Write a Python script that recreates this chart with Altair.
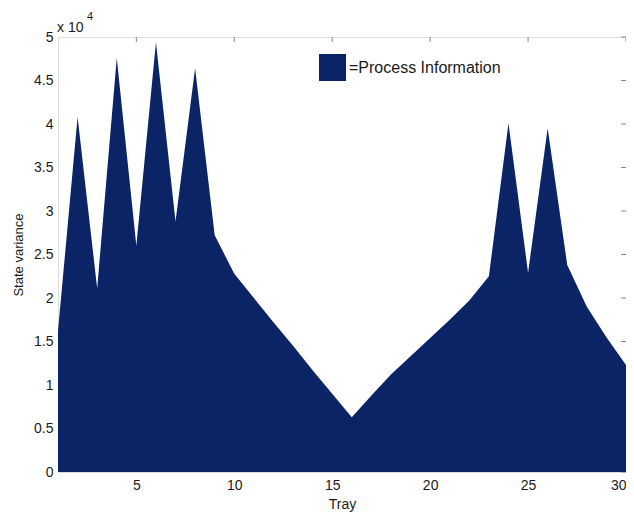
import altair as alt
import pandas as pd

trays = list(range(1, 31))
variance = [1.62, 4.08, 2.11, 4.76, 2.60, 4.94, 2.88, 4.64, 2.72, 2.28,
            2.00, 1.72, 1.45, 1.17, 0.90, 0.63, 0.88, 1.12, 1.33, 1.54,
            1.75, 1.97, 2.25, 4.01, 2.29, 3.95, 2.38, 1.90, 1.55, 1.23]
series_name = "=Process Information"
x_ticks = [5, 10, 15, 20, 25, 30]
y_ticks = [0, 0.5, 1, 1.5, 2, 2.5, 3, 3.5, 4, 4.5, 5]

FILL = "#0b2466"
FONT = "Liberation Sans"
TXT = "#1a1a1a"

df = pd.DataFrame({"tray": trays, "var": variance, "series": series_name})
xt = pd.DataFrame({"t": x_ticks})
yt = pd.DataFrame({"t": y_ticks})

xscale = alt.Scale(domain=[1, 30], nice=False, zero=False)
yscale = alt.Scale(domain=[0, 5], nice=False)

area = alt.Chart(df).mark_area(color=FILL, opacity=1, interpolate="linear").encode(
    x=alt.X("tray:Q", scale=xscale,
            axis=alt.Axis(values=x_ticks, title="Tray", ticks=False, domain=False,
                          grid=False, labelPadding=6, titlePadding=5,
                          labelFontSize=14, titleFontSize=14, labelFont=FONT,
                          titleFont=FONT, labelColor=TXT, titleColor=TXT,
                          titleFontWeight="normal", labelFlush=True)),
    y=alt.Y("var:Q", scale=yscale,
            axis=alt.Axis(values=y_ticks, title="State variance", ticks=False,
                          domain=False, grid=False, labelPadding=5, titlePadding=8,
                          labelFontSize=14, titleFontSize=13, labelFont=FONT,
                          titleFont=FONT, labelColor=TXT, titleColor=TXT,
                          titleFontWeight="normal", format="~g")),
    color=alt.Color("series:N", scale=alt.Scale(range=[FILL]),
                    legend=alt.Legend(title=None, orient="none", legendX=261, legendY=17,
                                      symbolType="square", symbolSize=729,
                                      symbolStrokeWidth=0, symbolOpacity=1,
                                      labelFontSize=16, labelFont=FONT,
                                      labelColor=TXT, labelOffset=3)),
)

top_ticks = alt.Chart(xt).mark_rule(color="#888", strokeWidth=1).encode(
    x=alt.X("t:Q", scale=xscale), y=alt.value(0), y2=alt.value(5))
right_ticks = alt.Chart(yt).mark_rule(color="#888", strokeWidth=1).encode(
    y=alt.Y("t:Q", scale=yscale), x=alt.value(568), x2=alt.value(563))

mult = alt.Chart(pd.DataFrame({"s": ["x 10"]})).mark_text(
    align="left", baseline="alphabetic", fontSize=14, font=FONT, color=TXT).encode(
    text="s:N", x=alt.value(-1), y=alt.value(-5))
exp = alt.Chart(pd.DataFrame({"s": ["4"]})).mark_text(
    align="left", baseline="alphabetic", fontSize=11, font=FONT, color=TXT).encode(
    text="s:N", x=alt.value(29), y=alt.value(-17))

chart = alt.layer(top_ticks, right_ticks, area, mult, exp).properties(
    width=568, height=435,
    padding={"left": 50, "top": 29, "right": 0, "bottom": 42},
    autosize="none",
).configure_view(stroke="#999", strokeWidth=1).configure(background="white")

chart.save("out.html", embed_options={"renderer": "svg", "actions": False})
